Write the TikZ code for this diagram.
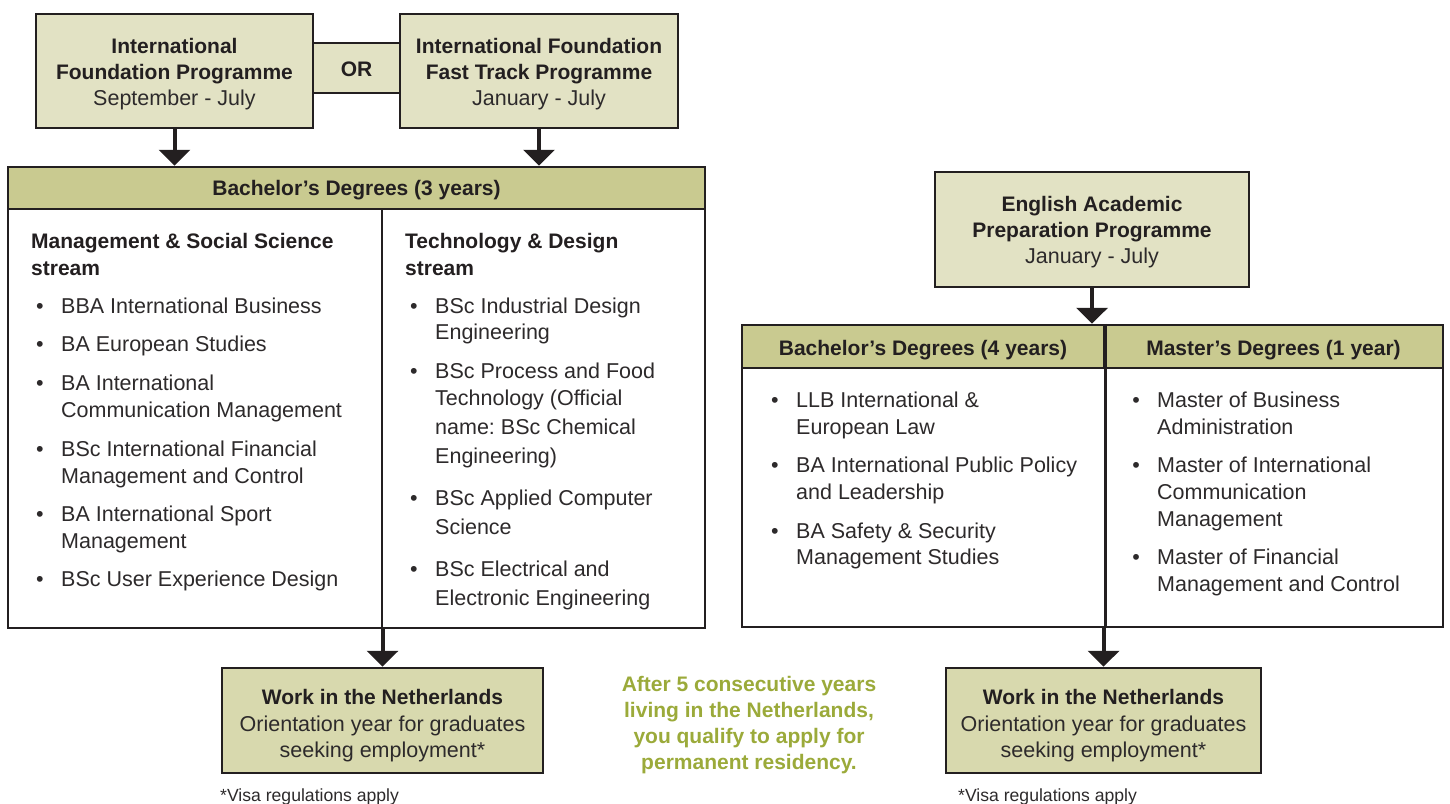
\documentclass[tikz,border=0pt]{standalone}
\usepackage{fontspec}
\setmainfont{Liberation Sans}
\usetikzlibrary{arrows.meta}
\definecolor{boxlight}{RGB}{226,226,196}
\definecolor{boxhead}{RGB}{201,202,144}
\definecolor{boxwork}{RGB}{216,217,174}
\definecolor{ink}{RGB}{35,31,32}
\definecolor{bodyink}{RGB}{45,42,43}
\definecolor{greentext}{RGB}{155,170,58}
\frenchspacing
\begin{document}
\begin{tikzpicture}[x=1pt,y=-1pt,
  frame/.style={draw=ink,line width=2.5pt,inner sep=0pt},
  flow/.style={draw=ink,line width=4pt,-{Triangle[width=31pt,length=16pt]}},
  bt/.style={font=\fontsize{21}{26}\selectfont\bfseries,text=ink,anchor=base,inner sep=0pt},
  rt/.style={font=\fontsize{21.5}{26}\selectfont,text=bodyink,anchor=base,inner sep=0pt},
  lt/.style={rt,anchor=base west},
  hd/.style={bt,anchor=base west},
  bul/.style={font=\fontsize{21.5}{26}\selectfont,text=bodyink,anchor=base,inner sep=0pt},
  gt/.style={bt,text=greentext},
  note/.style={font=\fontsize{17.6}{20}\selectfont,text=bodyink,anchor=base west,inner sep=0pt}]
\useasboundingbox (0,0) rectangle (1450,803);

% OR band
\node[fill=boxlight,minimum width=87pt,minimum height=50pt,inner sep=0pt] (orband) at (356.5,68) {};
\draw[ink,line width=2.5pt] (orband.north west) -- (orband.north east);
\draw[ink,line width=2.5pt] (orband.south west) -- (orband.south east);
\node[bt] (ortext) at (356.5,76.5) {OR};

% top boxes
\node[frame,fill=boxlight,minimum width=277pt,minimum height=114pt] (ifp) at (174.5,71) {};
\node[bt] (ifp1) at (174.5,53) {International};
\node[bt] (ifp2) at (174.5,79) {Foundation Programme};
\node[rt] (ifp3) at (174.5,105) {September - July};

\node[frame,fill=boxlight,minimum width=278pt,minimum height=114pt] (ifft) at (539,71) {};
\node[bt] (ifft1) at (539,53) {International Foundation};
\node[bt] (ifft2) at (539,79) {Fast Track Programme};
\node[rt] (ifft3) at (539,105) {January - July};

% Bachelor 3 years table
\node[frame,fill=white,minimum width=697pt,minimum height=461pt] (bach3) at (356.5,397.5) {};
\node[frame,fill=boxhead,minimum width=697pt,minimum height=42pt] (bach3head) at (356.5,188) {};
\node[bt] (bach3title) at (356.5,195) {Bachelor’s Degrees (3 years)};
\coordinate (div1) at (382,209);
\draw[ink,line width=2.5pt] (div1) -- (div1 |- bach3.south);

\draw[flow] (ifp.south) -- (ifp.south |- bach3.north);
\draw[flow] (ifft.south) -- (ifft.south |- bach3.north);

% left column
\node[hd] (ms1) at (31,248) {Management \& Social Science};
\node[hd] (ms2) at (31,275) {stream};
\node[bul] (b1) at (40,313) {•};
\node[lt] (l1) at (61,313) {BBA International Business};
\node[bul] (b2) at (40,351) {•};
\node[lt] (l2) at (61,351) {BA European Studies};
\node[bul] (b3) at (40,390) {•};
\node[lt] (l3a) at (61,390) {BA International};
\node[lt] (l3b) at (61,417) {Communication Management};
\node[bul] (b4) at (40,456) {•};
\node[lt] (l4a) at (61,456) {BSc International Financial};
\node[lt] (l4b) at (61,483) {Management and Control};
\node[bul] (b5) at (40,521) {•};
\node[lt] (l5a) at (61,521) {BA International Sport};
\node[lt] (l5b) at (61,548) {Management};
\node[bul] (b6) at (40,586) {•};
\node[lt] (l6) at (61,586) {BSc User Experience Design};

% middle column
\node[hd] (td1) at (405,248) {Technology \& Design};
\node[hd] (td2) at (405,275) {stream};
\node[bul] (c1) at (414,313) {•};
\node[lt] (m1a) at (435,313) {BSc Industrial Design};
\node[lt] (m1b) at (435,339) {Engineering};
\node[bul] (c2) at (414,378) {•};
\node[lt] (m2a) at (435,378) {BSc Process and Food};
\node[lt] (m2b) at (435,405) {Technology (Official};
\node[lt] (m2c) at (435,434) {name: BSc Chemical};
\node[lt] (m2d) at (435,463) {Engineering)};
\node[bul] (c3) at (414,505) {•};
\node[lt] (m3a) at (435,505) {BSc Applied Computer};
\node[lt] (m3b) at (435,534) {Science};
\node[bul] (c4) at (414,576) {•};
\node[lt] (m4a) at (435,576) {BSc Electrical and};
\node[lt] (m4b) at (435,605) {Electronic Engineering};

% work box left
\node[frame,fill=boxwork,minimum width=321pt,minimum height=105pt] (work1) at (382.5,720.5) {};
\node[bt] (w1a) at (382.5,704) {Work in the Netherlands};
\node[rt] (w1b) at (382.5,731) {Orientation year for graduates};
\node[rt] (w1c) at (382.5,757) {seeking employment*};
\draw[flow] (work1.north |- bach3.south) -- (work1.north);
\node[note] (visa1) at (220,801) {*Visa regulations apply};

% green note
\node[gt] (g1) at (749,691) {After 5 consecutive years};
\node[gt] (g2) at (749,717) {living in the Netherlands,};
\node[gt] (g3) at (749,743) {you qualify to apply for};
\node[gt] (g4) at (749,769) {permanent residency.};

% English Academic Preparation
\node[frame,fill=boxlight,minimum width=314pt,minimum height=115pt] (eapp) at (1092,229.5) {};
\node[bt] (e1) at (1092,211) {English Academic};
\node[bt] (e2) at (1092,237) {Preparation Programme};
\node[rt] (e3) at (1092,263) {January - July};

% right table
\node[frame,fill=white,minimum width=701pt,minimum height=302pt] (rtab) at (1092.5,476) {};
\node[frame,fill=boxhead,minimum width=362pt,minimum height=43pt] (hb4) at (923,346.5) {};
\node[frame,fill=boxhead,minimum width=339pt,minimum height=43pt] (hm1) at (1273.5,346.5) {};
\node[bt] (hb4t) at (923,355) {Bachelor’s Degrees (4 years)};
\node[bt] (hm1t) at (1273.5,355) {Master’s Degrees (1 year)};
\draw[ink,line width=2.5pt] (hb4.north east) -- (hb4.north east |- rtab.south);
\draw[flow] (eapp.south) -- (eapp.south |- rtab.north);

\node[bul] (r1) at (775,407) {•};
\node[lt] (ra1) at (796,407) {LLB International \&};
\node[lt] (ra2) at (796,434) {European Law};
\node[bul] (r2) at (775,472) {•};
\node[lt] (rb1) at (796,472) {BA International Public Policy};
\node[lt] (rb2) at (796,499) {and Leadership};
\node[bul] (r3) at (775,538) {•};
\node[lt] (rc1) at (796,538) {BA Safety \& Security};
\node[lt] (rc2) at (796,564) {Management Studies};

\node[bul] (s1) at (1136,407) {•};
\node[lt] (sa1) at (1157,407) {Master of Business};
\node[lt] (sa2) at (1157,434) {Administration};
\node[bul] (s2) at (1136,472) {•};
\node[lt] (sb1) at (1157,472) {Master of International};
\node[lt] (sb2) at (1157,499) {Communication};
\node[lt] (sb3) at (1157,526) {Management};
\node[bul] (s3) at (1136,564) {•};
\node[lt] (sc1) at (1157,564) {Master of Financial};
\node[lt] (sc2) at (1157,591) {Management and Control};

% work box right
\node[frame,fill=boxwork,minimum width=315pt,minimum height=105pt] (work2) at (1103.5,720.5) {};
\node[bt] (w2a) at (1103.5,704) {Work in the Netherlands};
\node[rt] (w2b) at (1103.5,731) {Orientation year for graduates};
\node[rt] (w2c) at (1103.5,757) {seeking employment*};
\draw[flow] (work2.north |- rtab.south) -- (work2.north);
\node[note] (visa2) at (958,801) {*Visa regulations apply};
\end{tikzpicture}
\end{document}
